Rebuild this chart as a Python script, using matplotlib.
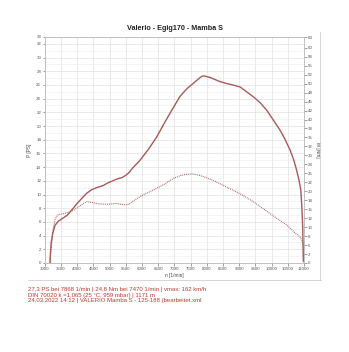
import matplotlib
matplotlib.use("Agg")
import matplotlib.pyplot as plt
from matplotlib.lines import Line2D
from matplotlib.ticker import FixedLocator, MultipleLocator
import numpy as np

plt.rcParams['font.family'] = ['Liberation Sans', 'DejaVu Sans']

# Leistung (PS) über Drehzahl
rpm_p = [3163, 3175, 3200, 3246, 3318, 3420, 3550, 3700, 3880, 4000, 4100, 4200,
         4300, 4450, 4600, 4800, 4950, 5100, 5250, 5400, 5530, 5620, 5700, 5820,
         5940, 6200, 6455, 6700, 6870, 7020, 7170, 7300, 7400, 7500, 7600, 7700,
         7800, 7870, 7950, 8000, 8100, 8200, 8400, 8620, 8800, 9030, 9200, 9430,
         9650, 9850, 10050, 10260, 10400, 10570, 10680, 10770, 10850, 10900, 10930,
         10960, 10980]
power = [0.0, 1.3, 3.0, 4.3, 5.5, 6.1, 6.5, 7.0, 8.0, 8.7, 9.2, 9.7,
         10.2, 10.7, 11.0, 11.3, 11.7, 12.0, 12.3, 12.5, 12.9, 13.3, 13.8, 14.4,
         15.0, 16.6, 18.4, 20.5, 21.9, 23.1, 24.3, 25.0, 25.5, 25.9, 26.3, 26.7,
         27.1, 27.3, 27.3, 27.2, 27.1, 26.9, 26.5, 26.2, 26.0, 25.7, 25.1, 24.3,
         23.4, 22.3, 20.9, 19.4, 18.2, 16.5, 15.1, 13.6, 12.0, 10.7, 8.5,
         5.3, 0.3]

# Drehmoment (Nm) über Drehzahl
rpm_m = [3160, 3200, 3265, 3320, 3400, 3500, 3600, 3750, 3900, 4000, 4100, 4200,
         4300, 4450, 4600, 4800, 5000, 5200, 5400, 5530, 5620, 5700, 5940, 6200,
         6455, 6700, 6970, 7200, 7350, 7470, 7600, 7700, 7900, 8150, 8410, 8650,
         8920, 9200, 9435, 9700, 9950, 10200, 10465, 10700, 10876, 10950, 10980,
         10990]
torque = [0.0, 4.0, 9.7, 12.2, 13.4, 13.6, 13.8, 14.2, 14.8, 15.3, 16.0, 16.6,
          17.1, 16.9, 16.6, 16.4, 16.4, 16.6, 16.3, 16.2, 16.5, 17.1, 18.5, 19.7,
          20.8, 22.0, 23.6, 24.4, 24.7, 24.8, 24.8, 24.6, 24.1, 23.2, 22.1, 21.0,
          19.8, 18.4, 17.1, 15.4, 13.8, 12.2, 10.6, 8.6, 7.3, 6.0, 4.6,
          0.0]

p_max = 33.0
m_max = 63.0
x_ticks = list(range(3000, 11001, 500))
p_ticks = list(range(0, 33, 2)) + [33]
m_ticks = list(np.arange(0, 60.1, 2.5)) + [63]

title = "Valerio - Egig170 - Mamba S"
info_lines = [
    "27,3 PS bei 7868 1/min | 24,8 Nm bei 7470 1/min | vmax: 162 km/h",
    "DIN 70020 k =1,065 (25 \u00b0C, 959 mbar) | 1171 m",
    "24.03.2022 14:12 | VALERIO Mamba S - 125-188 (bearbeitet.xml",
]

W, H = 349, 352
fig = plt.figure(figsize=(W / 100, H / 100), dpi=100)
fig.patch.set_facecolor("white")

ax = fig.add_axes([44.7 / W, 1 - 263 / H, (304 - 44.7) / W, (263 - 37) / H])
ax2 = ax.twinx()

curve = "#a85a58"
ax.plot(rpm_p, power, color=curve, lw=1.0, zorder=3, solid_joinstyle="round")
ax2.plot(rpm_m, torque, color=curve, lw=0.8, ls=(0, (0.8, 0.9)), zorder=3)

ax.set_xlim(3000, 11000)
ax.set_ylim(0, p_max)
ax2.set_ylim(0, m_max)

ax.xaxis.set_major_locator(FixedLocator(x_ticks))
ax.yaxis.set_major_locator(FixedLocator(p_ticks))
ax.yaxis.set_minor_locator(MultipleLocator(1))
ax2.yaxis.set_major_locator(FixedLocator(m_ticks))
ax2.set_yticklabels([str(round(v)) for v in m_ticks])

ax.grid(which="major", color="#e2e2e2", lw=0.5)
ax.grid(which="minor", axis="y", color="#ececec", lw=0.4)
ax.tick_params(which="minor", length=0)
for a in (ax, ax2):
    a.tick_params(which="major", labelsize=3.2, length=1.8, width=0.4,
                  colors="#555555", pad=0.8)
    for s in a.spines.values():
        s.set_color("#bdbdbd")
        s.set_linewidth(0.5)

ax.set_xlabel("n [1/min]", fontsize=3.4, color="#444444", labelpad=1.5)
ax.set_ylabel("P [PS]", fontsize=3.4, color="#444444", labelpad=3)
ax2.set_ylabel("M [Nm]", fontsize=3.4, color="#444444", labelpad=1.5, rotation=270,
               va="bottom")

fig.text(175 / W, 1 - 29 / H, title, fontsize=5.2, fontweight="bold",
         ha="center", va="center", color="#222222")

for i, line in enumerate(info_lines):
    fig.text(28 / W, 1 - (290 + 5.4 * i) / H, line, fontsize=4.3,
             color="#c0392b", ha="left", va="center")

# Rahmen rechts und unten
fig.add_artist(Line2D([320 / W, 320 / W], [1 - 32 / H, 1 - 280 / H],
                      color="#d0d0d0", lw=0.6))
fig.add_artist(Line2D([28 / W, 321 / W], [1 - 280 / H, 1 - 280 / H],
                      color="#d0d0d0", lw=0.6))

fig.savefig("out.png", dpi=100, facecolor="white")
